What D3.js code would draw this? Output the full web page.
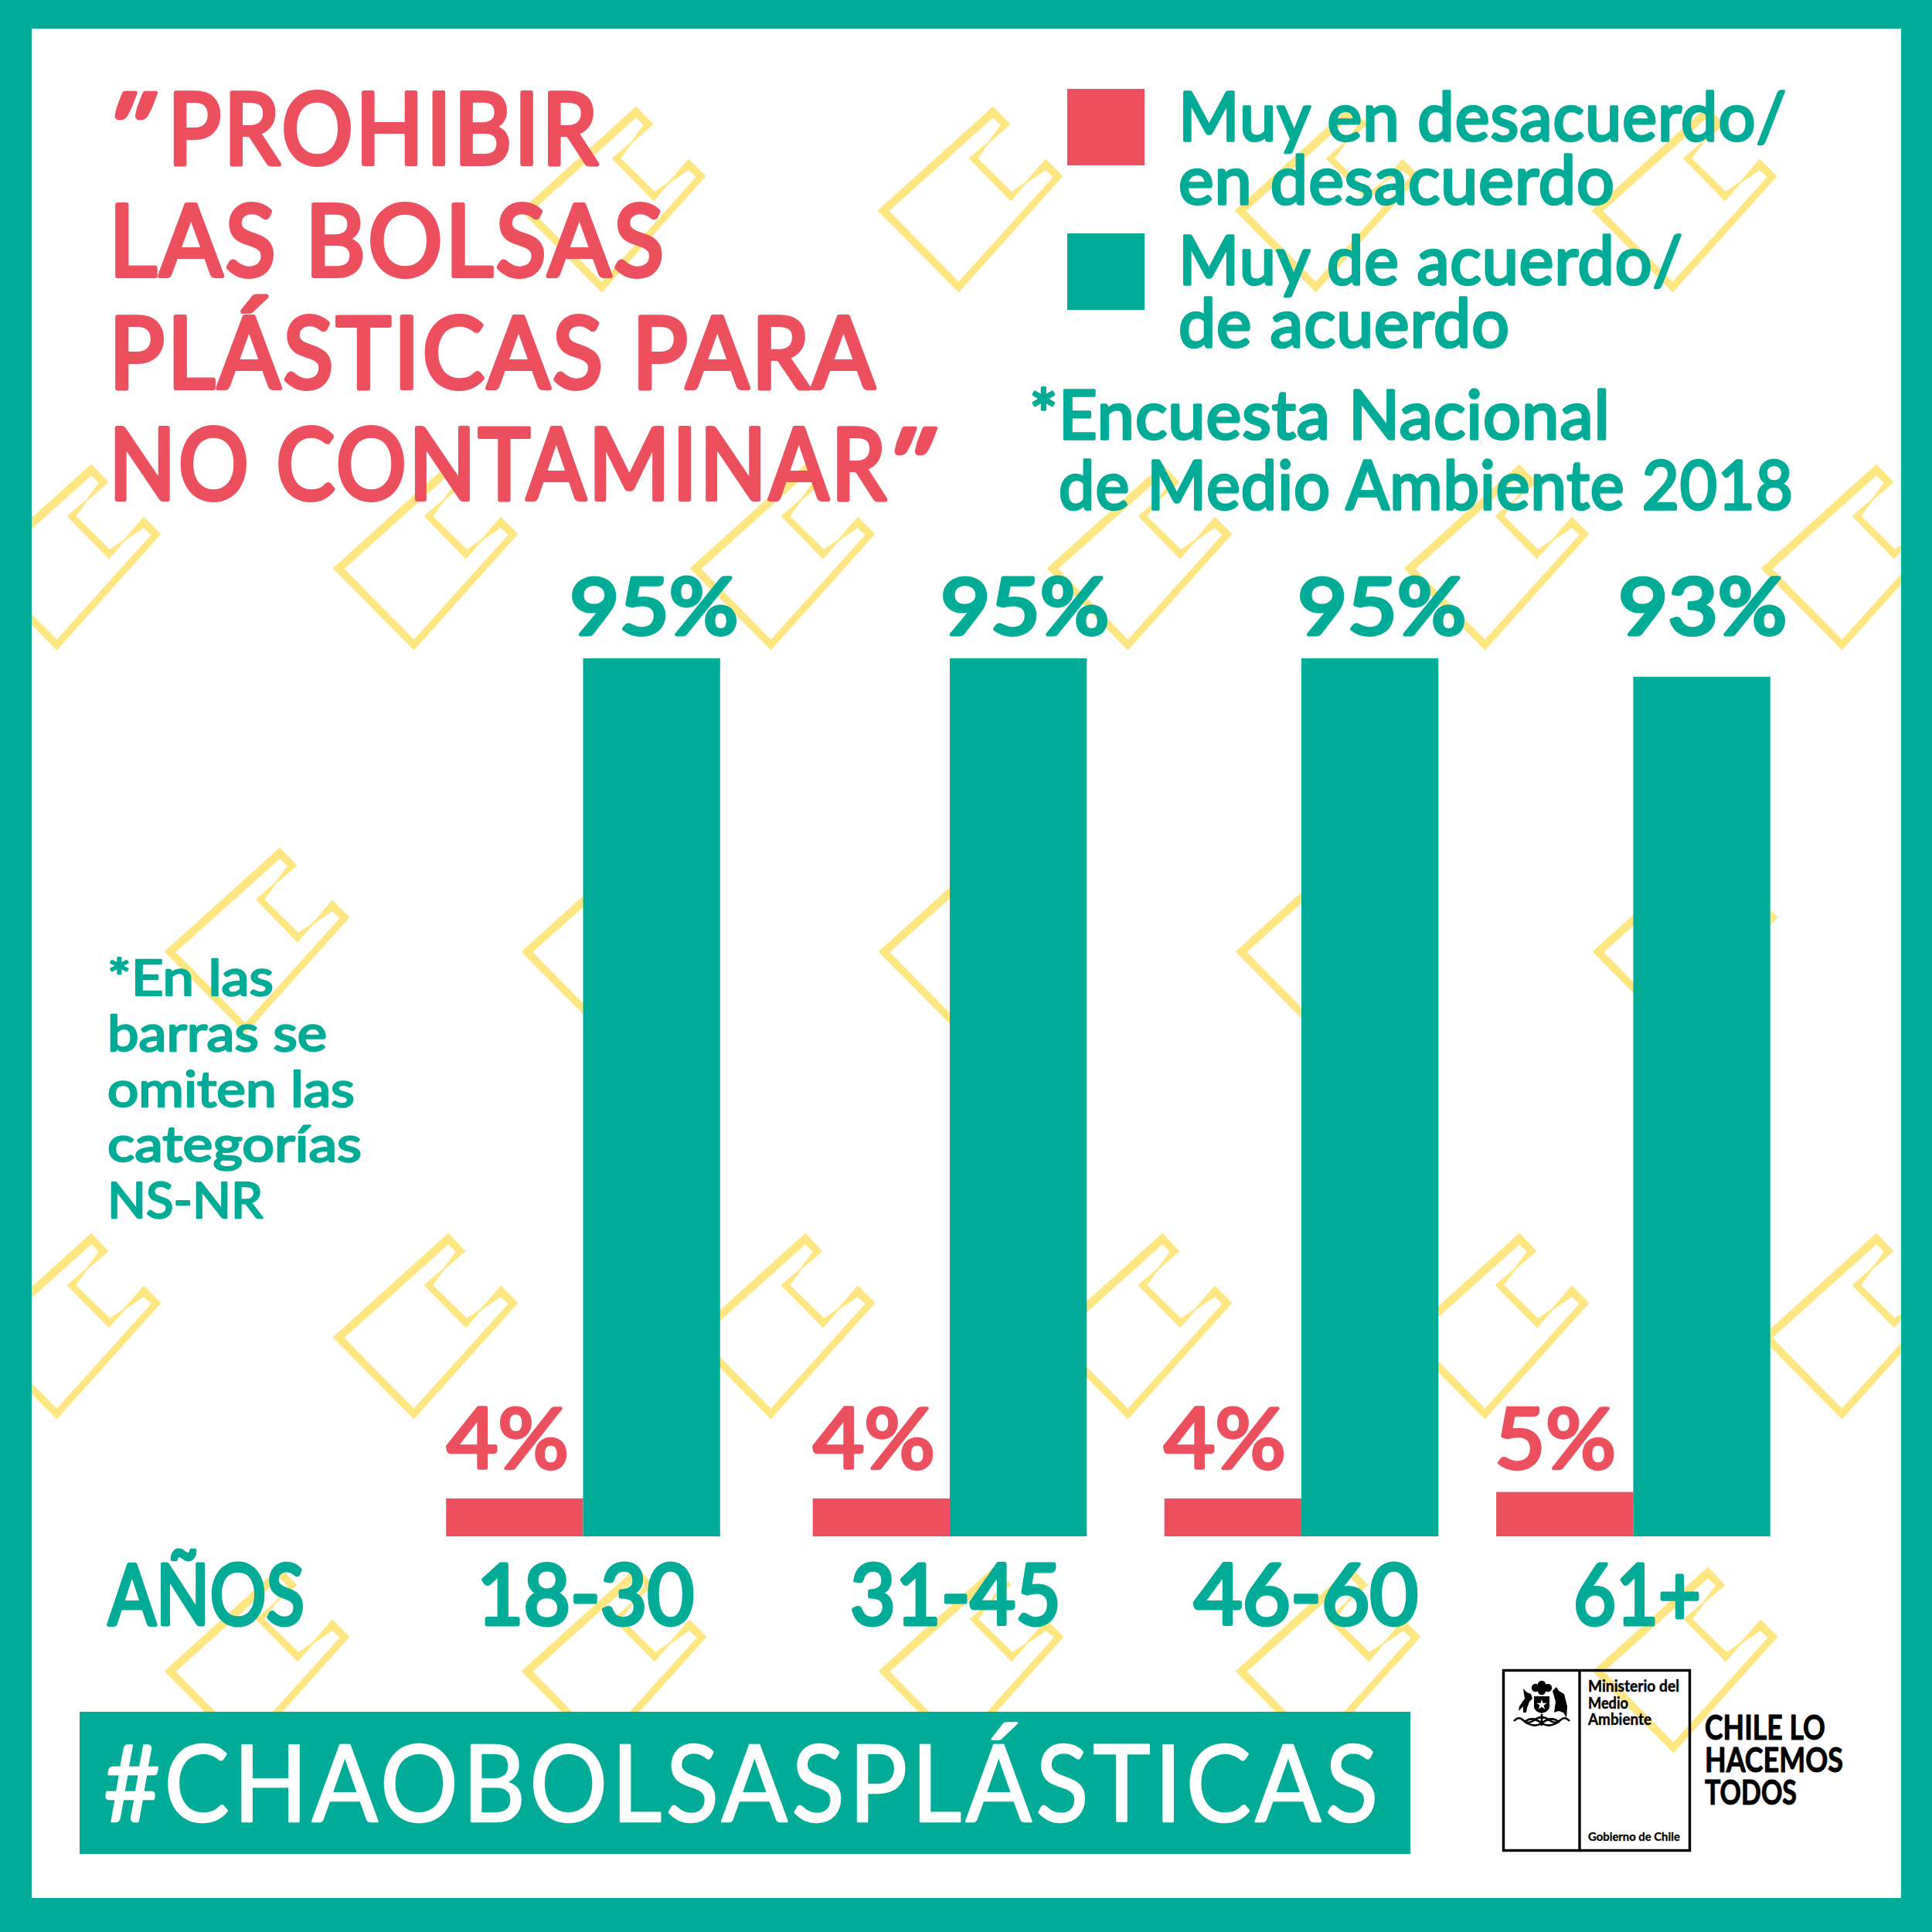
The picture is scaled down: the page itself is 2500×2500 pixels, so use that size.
<!DOCTYPE html>
<html>
<head>
<meta charset="utf-8">
<script src="https://cdn.jsdelivr.net/npm/d3@7"></script>
<style>
  body { margin: 0; background: #fff; }
  text { font-family: Lato, sans-serif; }
</style>
</head>
<body>
<div id="chart"></div>
<script>
// data (bars are a bit off the rounded labels)
var ageGroups = ["18-30", "31-45", "46-60", "61+"];
var disagree = [4.1, 4.1, 4.1, 4.8];
var agree = [95, 95, 95, 93];
var answers = ["disagree", "agree"];
var valueSeries = { disagree: disagree, agree: agree };

var titleLines = ["PROHIBIR", "LAS BOLSAS", "PLÁSTICAS PARA", "NO CONTAMINAR"];
var legendLines = ["Muy en desacuerdo/", "en desacuerdo", "Muy de acuerdo/", "de acuerdo"];
var surveyLines = ["*Encuesta Nacional", "de Medio Ambiente 2018"];
var noteLines = ["*En las", "barras se", "omiten las", "categorías", "NS-NR"];
var hashtag = "#CHAOBOLSASPLÁSTICAS";

var GREEN = "#00ab97", RED = "#ec505e", YELLOW = "#ffe680";

var svg = d3.select("#chart").append("svg").attr("width", 2500).attr("height", 2500);

svg.append("rect").attr("width", 2500).attr("height", 2500).attr("fill", GREEN);
svg.append("rect").attr("x", 41).attr("y", 37).attr("width", 2419).attr("height", 2419).attr("fill", "#fff");

svg.append("clipPath").attr("id", "panel")
    .append("rect").attr("x", 41).attr("y", 37).attr("width", 2419).attr("height", 2419);

// background bags, all the same shape repeated; outer and inner edge so the line gets thicker at the bottom left
var bagOuter = [[0, 1], [21, 23], [-30, 67], [23, 121], [68, 69], [89, 90], [-44.5, 239], [-148, 134.5]];
var bagInner = [[0, 13], [11, 23.5], [-21, 67], [24, 111], [68, 81], [79, 91], [-44.5, 228], [-136, 135]];
var bagLine = d3.line().curve(d3.curveLinearClosed);
var bagRows = [
    { y: 138, x: [823, 1285, 1747, 2209] },
    { y: 601, x: [118, 580, 1042, 1504, 1966, 2428] },
    { y: 1097, x: [362, 824, 1286, 1748, 2210] },
    { y: 1596, x: [118, 580, 1042, 1504, 1966, 2428] },
    { y: 2028, x: [362, 824, 1286, 1748, 2210] }
];
var bags = svg.append("g").attr("clip-path", "url(#panel)");
bagRows.forEach(function(row) {
    bags.selectAll(null)
        .data(row.x)
        .enter().append("path")
        .attr("transform", d => `translate(${d}, ${row.y})`)
        .attr("d", bagLine(bagOuter) + bagLine(bagInner))
        .attr("fill", YELLOW)
        .attr("fill-rule", "evenodd")
        .attr("stroke", YELLOW)
        .attr("stroke-width", 2)
        .attr("stroke-linejoin", "round");
});

// writes one line and stretches it to the width it has in the reference
function fitText(parent, str, x, y, width, size, color, strokeW, weight, spacing) {
    var t = parent.append("text")
        .attr("font-size", size)
        .attr("font-weight", weight || 400)
        .attr("letter-spacing", spacing || 0)
        .attr("fill", color)
        .attr("stroke", color)
        .attr("stroke-width", strokeW)
        .attr("stroke-linejoin", "round");
    t.text(str);
    var len = t.node().getComputedTextLength();
    t.attr("transform", `translate(${x}, ${y}) scale(${width / len}, 1)`);
    return t;
}

// Title
var titleBase = [212, 357, 502, 646];
var titleLeft = [217, 141, 141, 141];
var titleRight = [777, 863, 1136, 1150];
titleLines.forEach(function(line, i) {
    fitText(svg, line, titleLeft[i], titleBase[i], titleRight[i] - titleLeft[i], 128, RED, 6, 400, 4);
});
// the quote marks of the title, two slanted strokes each
[[123, 212], [1132, 646]].forEach(function(p) {
    var q = fitText(svg, '"', p[0], p[1], 60, 128, RED, 5);
    q.attr("font-style", "italic");
    var len = q.node().getComputedTextLength();
    q.attr("transform", `translate(${p[0]}, ${p[1]}) skewX(-12) scale(${60 / len}, 1)`);
});

// Legend
var legendSwatch = d3.scaleOrdinal().domain(answers).range([115, 302]);
var legendColor = d3.scaleOrdinal().domain(answers).range([RED, GREEN]);
svg.selectAll(".swatch")
    .data(answers)
    .enter().append("rect")
    .attr("class", "swatch")
    .attr("x", 1381)
    .attr("y", d => legendSwatch(d))
    .attr("width", 100)
    .attr("height", 99)
    .attr("fill", d => legendColor(d));

var legendBase = [182, 264, 368, 449];
var legendRight = [2312, 2090, 2178, 1954];
legendLines.forEach(function(line, i) {
    fitText(svg, line, 1525, legendBase[i], legendRight[i] - 1525, 88, GREEN, 3.5, 400, 1);
});

var surveyLeft = [1332, 1370], surveyRight = [2084, 2321], surveyBase = [568, 659];
surveyLines.forEach(function(line, i) {
    fitText(svg, line, surveyLeft[i], surveyBase[i], surveyRight[i] - surveyLeft[i], 88, GREEN, 3.5, 400, 1);
});

// Side note
var noteBase = [1288, 1360, 1432, 1503, 1576];
var noteRight = [354, 423, 459, 468, 340];
noteLines.forEach(function(line, i) {
    fitText(svg, line, 139, noteBase[i], noteRight[i] - 139, 64, GREEN, 2.5);
});

// Bars
var groupX = d3.scaleOrdinal().domain(ageGroups).range([754.5, 1229, 1684, 2113.4]);
var answerX = d3.scaleBand().domain(answers).range([-177.3, 177.3]);
var y = d3.scaleLinear().domain([0, 100]).range([1988, 792]);

answers.forEach(function(answer) {
    svg.selectAll(".bar-" + answer)
        .data(valueSeries[answer])
        .enter().append("rect")
        .attr("class", "bar-" + answer)
        .attr("x", (d, i) => groupX(ageGroups[i]) + answerX(answer))
        .attr("y", d => y(d))
        .attr("width", answerX.bandwidth())
        .attr("height", d => y(0) - y(d))
        .attr("fill", legendColor(answer));
});

// Value labels
var agreeLabelX = d3.scaleOrdinal().domain(ageGroups).range([737, 1217, 1679, 2094]);
var disagreeLabelX = d3.scaleOrdinal().domain(ageGroups).range([578, 1052, 1506, 1934]);
ageGroups.forEach(function(group, i) {
    fitText(svg, Math.round(agree[i]) + "%", agreeLabelX(group), 821, 218, 100, GREEN, 5);
    var red = Math.round(disagree[i]);
    fitText(svg, red + "%", disagreeLabelX(group), 1900, red === 5 ? 157 : 158, 108, RED, 4.5);
});

// Axis labels
var tickLeft = d3.scaleOrdinal().domain(ageGroups).range([617, 1100, 1545, 2036]);
var tickRight = d3.scaleOrdinal().domain(ageGroups).range([898, 1373, 1835, 2201]);
ageGroups.forEach(function(group) {
    fitText(svg, group, tickLeft(group), 2102, tickRight(group) - tickLeft(group), 108, GREEN, 5);
});
fitText(svg, "AÑOS", 140, 2102, 254, 108, GREEN, 5);

// Hashtag band
svg.append("rect").attr("x", 103).attr("y", 2215).attr("width", 1722).attr("height", 184).attr("fill", GREEN);
fitText(svg, hashtag, 134, 2357, 1655, 137, "#fff", 2.5, 400, 6);

// Logo
var logo = svg.append("g");
logo.append("rect").attr("x", 1945.5).attr("y", 2161.5).attr("width", 241).attr("height", 233)
    .attr("fill", "none").attr("stroke", "#000").attr("stroke-width", 3.4);
logo.append("line").attr("x1", 2044).attr("x2", 2044).attr("y1", 2161).attr("y2", 2395)
    .attr("stroke", "#000").attr("stroke-width", 3.4);

var ministryLines = ["Ministerio del", "Medio", "Ambiente"];
var ministryBase = [2189, 2210.5, 2232], ministryRight = [2173, 2107, 2137];
ministryLines.forEach(function(line, i) {
    fitText(logo, line, 2055, ministryBase[i], ministryRight[i] - 2055, 20, "#000", 0.4, 700);
});
fitText(logo, "Gobierno de Chile", 2055, 2381.5, 119, 16, "#000", 0.3, 700);

var sloganLines = ["CHILE LO", "HACEMOS", "TODOS"];
var sloganBase = [2251, 2293, 2335], sloganRight = [2362, 2385, 2325];
sloganLines.forEach(function(line, i) {
    fitText(logo, line, 2206, sloganBase[i], sloganRight[i] - 2206, 43, "#000", 1, 700);
});

// crest, drawn roughly
var crest = logo.append("g").attr("transform", "translate(1995, 2206)");
crest.append("path").attr("d", "M-10,-11 L10,-11 L10,3 Q10,8 0,11 Q-10,8 -10,3 Z").attr("fill", "#000");
crest.append("path").attr("d", d3.symbol().type(d3.symbolStar).size(55)()).attr("fill", "#fff");
crest.selectAll(".plume").data([[-8, -22], [0, -26], [8, -22], [0, -18]]).enter().append("circle")
    .attr("cx", d => d[0]).attr("cy", d => d[1]).attr("r", 5.2).attr("fill", "#000");
crest.append("path").attr("d", "M-24,-21 L-19,-16 L-14,-14 L-12,-8 L-16,-4 L-19,4 L-20,10 L-24,10 L-24,2 L-30,8 L-29,2 L-22,-8 Z").attr("fill", "#000");
crest.append("path").attr("d", "M14,-18 L19,-23 L22,-18 L29,-14 L33,2 L32,17 L28,10 L22,8 L16,10 L18,-4 Z").attr("fill", "#000");
crest.append("path").attr("d", "M-36,21 Q-30,14 -24,20 Q-18,26 -10,20 Q0,12 10,20 Q18,26 24,20 Q30,14 36,21 M-22,22 Q-12,14 0,24 Q12,14 22,22 Q10,30 0,24 Q-10,30 -22,22 M0,12 L0,27")
    .attr("fill", "none").attr("stroke", "#000").attr("stroke-width", 2.6);
</script>
</body>
</html>
